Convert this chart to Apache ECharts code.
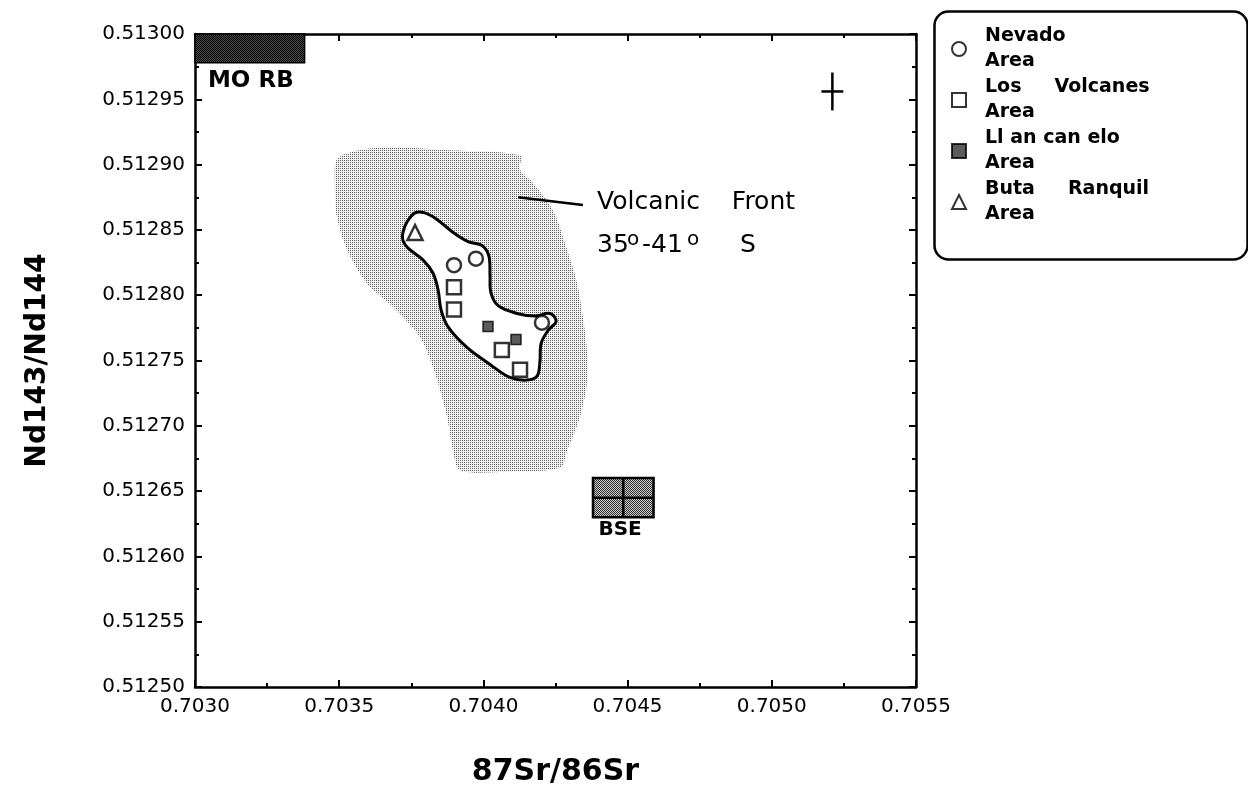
<!DOCTYPE html>
<html><head><meta charset="utf-8">
<script src="https://cdn.jsdelivr.net/npm/echarts@6/dist/echarts.min.js"></script>
<style>html,body{margin:0;padding:0;background:#fff;width:100%;height:100%;overflow:hidden}#c{width:1248px;height:788px;position:absolute;left:0;top:0}</style>
</head><body><div id="c"></div><script>
// ---- axis definitions ----
const xMin = 0.7030, xMax = 0.7055, xStep = 0.0005;
const yMin = 0.51250, yMax = 0.51300, yStep = 0.00005;
const xTitle = '87Sr/86Sr';
const yTitle = 'Nd143/Nd144';

// ---- sample data (87Sr/86Sr, 143Nd/144Nd) ----
const seriesNames = ['Nevado Area', 'Los Volcanes Area', 'Llancanelo Area', 'Buta Ranquil Area'];
const legendLabels = ['Nevado\nArea', 'Los     Volcanes\nArea', 'Ll an can elo\nArea', 'Buta     Ranquil\nArea'];
const nevado = [[0.703898, 0.512823], [0.703974, 0.512828], [0.704203, 0.512779]];
const losVolcanes = [[0.703898, 0.512806], [0.703898, 0.512789], [0.704064, 0.512758], [0.704127, 0.512743]];
const llancanelo = [[0.704016, 0.512776], [0.704113, 0.512766]];
const butaRanquil = [[0.703763, 0.512848]];

// ---- Volcanic Front field (35-41 S), outline ----
const volcanicFrontOutline = [
  [0.703496, 0.512905], [0.703641, 0.512913], [0.703884, 0.512911], [0.704127, 0.512907],
  [0.704127, 0.512896], [0.704172, 0.512886], [0.704241, 0.512865], [0.704290, 0.512835],
  [0.704325, 0.512809], [0.704345, 0.512783], [0.704359, 0.512758], [0.704359, 0.512733],
  [0.704335, 0.512707], [0.704290, 0.512681], [0.704266, 0.512668], [0.704092, 0.512665],
  [0.703919, 0.512666], [0.703895, 0.512681], [0.703874, 0.512707], [0.703850, 0.512727],
  [0.703825, 0.512745], [0.703780, 0.512768], [0.703687, 0.512791], [0.703596, 0.512809],
  [0.703527, 0.512835], [0.703492, 0.512860], [0.703485, 0.512886]
];
// ---- field enclosing the samples ----
const sampleFieldOutline = [
  [0.703721, 0.512848], [0.703735, 0.512856], [0.703763, 0.512863], [0.703797, 0.512863],
  [0.703839, 0.512858], [0.703895, 0.512848], [0.703947, 0.512841], [0.703995, 0.512838],
  [0.704019, 0.512830], [0.704023, 0.512815], [0.704026, 0.512802], [0.704051, 0.512792],
  [0.704117, 0.512786], [0.704179, 0.512784], [0.704231, 0.512786], [0.704252, 0.512780],
  [0.704224, 0.512773], [0.704200, 0.512763], [0.704196, 0.512749], [0.704186, 0.512738],
  [0.704151, 0.512735], [0.704092, 0.512737], [0.704023, 0.512747], [0.703943, 0.512760],
  [0.703877, 0.512776], [0.703853, 0.512789], [0.703843, 0.512804], [0.703825, 0.512817],
  [0.703791, 0.512827], [0.703739, 0.512836], [0.703721, 0.512842]
];
// ---- reservoir boxes [x1, y1, x2, y2] ----
const morbBox = [0.70300, 0.512978, 0.70338, 0.51300];
const bseBox = [0.70438, 0.51263, 0.70459, 0.51266];
// ---- analytical uncertainty cross [x, y, dx, dy] ----
const errorCross = [0.70521, 0.512956, 0.000038, 0.0000145];
// ---- annotation labels ----
const labelTexts = ['MO RB', 'BSE', 'Volcanic    Front'];
const labelX = [0.703045, 0.704474, 0.704394];
const labelY = [0.512964, 0.512620, 0.512871];
const latitudeParts = ['35', 'o', '-41', 'o', 'S'];
const latitudeAnchor = [0.704394, 0.512838];
const leaderLine = [0.704120, 0.512875, 0.704345, 0.512869];

// ---- styles ----
function pattern(dot, bg, cells) {
  const c = document.createElement('canvas');
  c.width = 4; c.height = 4;
  const g = c.getContext('2d');
  g.fillStyle = bg; g.fillRect(0, 0, 4, 4);
  g.fillStyle = dot;
  cells.forEach(p => g.fillRect(p[0], p[1], 1, 1));
  return { image: c, repeat: 'repeat' };
}
const dotGrid = [[0, 0], [2, 0], [0, 2], [2, 2]];
const checker = [[0, 0], [2, 0], [1, 1], [3, 1], [0, 2], [2, 2], [1, 3], [3, 3]];
const grayFill = pattern('#5e5e5e', '#f3f3f3', dotGrid);
const morbFill = pattern('#000000', '#505050', checker);
const bseFill = pattern('#2e2e2e', '#d0d0d0', checker);
const labelFonts = ['bold 23px "DejaVu Sans"', 'bold 20px "DejaVu Sans"', '25px "DejaVu Sans"'];
const labelAlign = ['left', 'center', 'left'];

const chart = echarts.init(document.getElementById('c'), null, { renderer: 'canvas', width: 1248, height: 788 });

function axis(extra, min, max, step, fmt, showLabel) {
  return Object.assign({
    type: 'value', min: min, max: max, interval: step, scale: true,
    axisLine: { show: true, onZero: false, lineStyle: { color: '#000', width: 2.5 } },
    axisTick: { show: true, inside: true, length: 7, lineStyle: { color: '#000', width: 2 } },
    minorTick: { show: true, splitNumber: 2, length: 4, lineStyle: { color: '#000', width: 2 } },
    splitLine: { show: false }, minorSplitLine: { show: false },
    axisLabel: { show: showLabel, formatter: fmt, color: '#000', fontSize: 20, fontFamily: 'DejaVu Sans' }
  }, extra);
}

const scatterBase = { type: 'scatter', z: 5, silent: true, itemStyle: { color: '#fff', borderColor: '#000', borderWidth: 2.5 } };

chart.setOption({
  animation: false,
  backgroundColor: '#fff',
  grid: { left: 195, top: 34, width: 721, height: 653, containLabel: false, outerBoundsMode: 'none' },
  xAxis: [
    axis({ position: 'bottom', name: xTitle, nameLocation: 'middle', nameGap: 70,
      nameTextStyle: { fontSize: 30, fontWeight: 'bold', fontFamily: 'DejaVu Sans', color: '#000' },
      axisLabel: { show: true, margin: 10, formatter: v => v.toFixed(4), color: '#000', fontSize: 20, fontFamily: 'DejaVu Sans' } },
      xMin, xMax, xStep, null, true),
    axis({ position: 'top' }, xMin, xMax, xStep, null, false)
  ],
  yAxis: [
    axis({ position: 'left', name: yTitle, nameLocation: 'middle', nameGap: 143, nameRotate: 90,
      nameTextStyle: { fontSize: 28, fontWeight: 'bold', fontFamily: 'DejaVu Sans', color: '#000' },
      axisLabel: { show: true, margin: 10, formatter: v => v.toFixed(5), color: '#000', fontSize: 20, fontFamily: 'DejaVu Sans' } },
      yMin, yMax, yStep, null, true),
    axis({ position: 'right' }, yMin, yMax, yStep, null, false)
  ],
  legend: {
    orient: 'vertical', left: 946, top: 19, itemWidth: 14, itemHeight: 14, itemGap: 1,
    selectedMode: false,
    data: seriesNames,
    formatter: name => legendLabels[seriesNames.indexOf(name)],
    textStyle: { fontFamily: 'DejaVu Sans', fontWeight: 'bold', fontSize: 19, lineHeight: 25, color: '#000', padding: [0, 0, 0, 14] }
  },
  graphic: [{
    type: 'rect', left: 932, top: 9, z: 0,
    shape: { width: 313, height: 248, r: 14 },
    style: { fill: 'none', stroke: '#000', lineWidth: 2.5 }
  }],
  series: [
    { type: 'custom', name: 'Volcanic Front field', silent: true, z: 1, data: [volcanicFrontOutline[0]],
      renderItem: (p, api) => ({ type: 'polygon', shape: { points: volcanicFrontOutline.map(q => api.coord(q)), smooth: 0.3 },
        style: { fill: grayFill, stroke: null } }) },
    { type: 'custom', name: 'Sample field', silent: true, z: 2, data: [sampleFieldOutline[0]],
      renderItem: (p, api) => ({ type: 'polygon', shape: { points: sampleFieldOutline.map(q => api.coord(q)), smooth: 0.35 },
        style: { fill: '#fff', stroke: '#000', lineWidth: 3 } }) },
    { type: 'custom', name: 'MORB', silent: true, z: 3, data: [morbBox],
      renderItem: (p, api) => {
        const a = api.coord([api.value(0), api.value(3)]), b = api.coord([api.value(2), api.value(1)]);
        return { type: 'rect', shape: { x: a[0], y: a[1], width: b[0] - a[0], height: b[1] - a[1] },
          style: { fill: morbFill, stroke: '#000', lineWidth: 1.5 } };
      } },
    { type: 'custom', name: 'BSE', silent: true, z: 3, data: [bseBox],
      renderItem: (p, api) => {
        const a = api.coord([api.value(0), api.value(3)]), b = api.coord([api.value(2), api.value(1)]);
        const mx = (a[0] + b[0]) / 2, my = (a[1] + b[1]) / 2;
        return { type: 'group', children: [
          { type: 'rect', shape: { x: a[0], y: a[1], width: b[0] - a[0], height: b[1] - a[1] }, style: { fill: bseFill, stroke: '#000', lineWidth: 2.5 } },
          { type: 'line', shape: { x1: mx, y1: a[1], x2: mx, y2: b[1] }, style: { stroke: '#000', lineWidth: 2.5 } },
          { type: 'line', shape: { x1: a[0], y1: my, x2: b[0], y2: my }, style: { stroke: '#000', lineWidth: 2.5 } }
        ] };
      } },
    { type: 'custom', name: 'Uncertainty', silent: true, z: 3, data: [errorCross],
      renderItem: (p, api) => {
        const x = api.value(0), y = api.value(1), dx = api.value(2), dy = api.value(3);
        const l = api.coord([x - dx, y]), r = api.coord([x + dx, y]), t = api.coord([x, y + dy]), b = api.coord([x, y - dy]);
        return { type: 'group', children: [
          { type: 'line', shape: { x1: l[0], y1: l[1], x2: r[0], y2: r[1] }, style: { stroke: '#000', lineWidth: 2.5 } },
          { type: 'line', shape: { x1: t[0], y1: t[1], x2: b[0], y2: b[1] }, style: { stroke: '#000', lineWidth: 2.5 } }
        ] };
      } },
    { type: 'custom', name: 'Leader', silent: true, z: 3, data: [leaderLine],
      renderItem: (p, api) => {
        const a = api.coord([api.value(0), api.value(1)]), b = api.coord([api.value(2), api.value(3)]);
        return { type: 'line', shape: { x1: a[0], y1: a[1], x2: b[0], y2: b[1] }, style: { stroke: '#000', lineWidth: 2.5 } };
      } },
    { type: 'custom', name: 'Labels', silent: true, z: 6, data: labelX.map((x, i) => [x, labelY[i], i]),
      renderItem: (p, api) => {
        const i = api.value(2), c = api.coord([api.value(0), api.value(1)]);
        return { type: 'text', x: c[0], y: c[1], style: { text: labelTexts[i], font: labelFonts[i], fill: '#000', align: labelAlign[i], verticalAlign: 'middle' } };
      } },
    { type: 'custom', name: 'Latitude', silent: true, z: 6, data: [latitudeAnchor],
      renderItem: (p, api) => {
        const c = api.coord([api.value(0), api.value(1)]);
        const offs = [0, 30, 45, 90, 143];
        const sup = [false, true, false, true, false];
        return { type: 'group', children: latitudeParts.map((t, k) => ({
          type: 'text', x: c[0] + offs[k], y: c[1] + (sup[k] ? -6 : 0),
          style: { text: t, font: (sup[k] ? '20px' : '25px') + ' "DejaVu Sans"', fill: '#000', align: 'left', verticalAlign: 'middle' }
        })) };
      } },
    Object.assign({}, scatterBase, { name: seriesNames[0], symbol: 'circle', symbolSize: 14, data: nevado }),
    Object.assign({}, scatterBase, { name: seriesNames[1], symbol: 'rect', symbolSize: 14, data: losVolcanes }),
    Object.assign({}, scatterBase, { name: seriesNames[2], symbol: 'rect', symbolSize: 10, data: llancanelo,
      itemStyle: { color: '#333', borderColor: '#000', borderWidth: 1.5 } }),
    Object.assign({}, scatterBase, { name: seriesNames[3], symbol: 'triangle', symbolSize: 15, data: butaRanquil })
  ]
});
</script></body></html>
